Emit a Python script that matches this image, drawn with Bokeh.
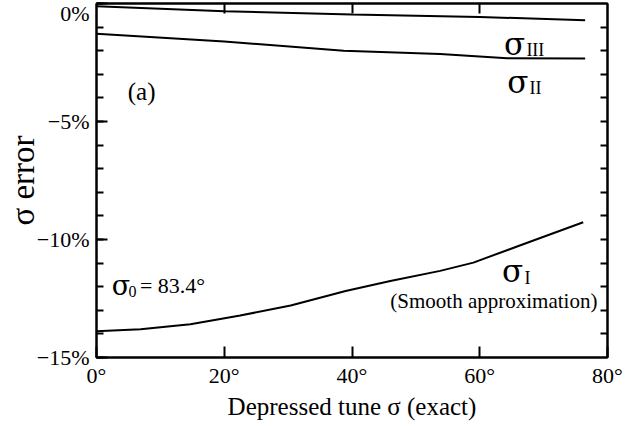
from bokeh.plotting import figure
from bokeh.models import Range1d, FixedTicker, LinearAxis, Label
from bokeh.embed import file_html
from bokeh.resources import INLINE

# ---- data ----
deg_III = [0, 20, 40, 60, 76.5]
err_III = [-0.12, -0.33, -0.47, -0.57, -0.71]

deg_II = [0, 20, 38.7, 53.8, 64.3, 76.5]
err_II = [-1.28, -1.61, -2.0, -2.14, -2.32, -2.33]

deg_I = [0, 6.9, 14.7, 22.5, 30.4, 39, 46, 53.8, 59, 66.8, 76.2]
err_I = [-13.89, -13.8, -13.59, -13.22, -12.8, -12.18, -11.76, -11.33, -10.98, -10.2, -9.27]

x_ticks = [0, 20, 40, 60, 80]
x_tick_labels = ["0°", "20°", "40°", "60°", "80°"]
y_ticks = [-15, -10, -5, 0]
y_tick_labels = ["\u221215%", "\u221210%", "\u22125%", "0%"]
y_minor = list(range(-15, 1))

FONT = "Liberation Serif"
SIG = "DejaVu Serif"

p = figure(width=625, height=429, x_range=Range1d(0, 80), y_range=Range1d(-15, 0),
           output_backend="svg", toolbar_location=None,
           min_border_left=96, min_border_right=18, min_border_top=3, min_border_bottom=72)
p.xgrid.visible = False
p.ygrid.visible = False
p.outline_line_color = "black"
p.outline_line_width = 2
p.background_fill_color = "white"
p.border_fill_color = "white"

def style_axis(ax, ticks, minor, major_in=11, minor_in=7):
    ax.ticker = FixedTicker(ticks=ticks, minor_ticks=minor)
    ax.axis_line_color = "black"
    ax.axis_line_width = 2
    ax.major_tick_line_color = "black"
    ax.major_tick_line_width = 2
    ax.major_tick_in = major_in
    ax.major_tick_out = 0
    ax.minor_tick_line_color = "black"
    ax.minor_tick_line_width = 2
    ax.minor_tick_in = minor_in
    ax.minor_tick_out = 0

def style_labels(ax, ticks, labels):
    ax.major_label_overrides = {t: l for t, l in zip(ticks, labels)}
    ax.major_label_text_font = FONT
    ax.major_label_text_font_size = "22px"
    ax.major_label_text_color = "black"
    ax.major_label_text_line_height = 1.0

# bottom axis
xa = p.xaxis[0]
style_axis(xa, x_ticks, [])
style_labels(xa, x_ticks, x_tick_labels)
xa.major_label_standoff = 5
xa.axis_label = "Depressed tune \u03c3 (exact)"
xa.axis_label_text_font = FONT
xa.axis_label_text_font_size = "25px"
xa.axis_label_text_font_style = "normal"
xa.axis_label_text_color = "black"
xa.axis_label_text_line_height = 1.0
xa.axis_label_standoff = 2

# left axis
ya = p.yaxis[0]
style_axis(ya, y_ticks, y_minor)
style_labels(ya, y_ticks, y_tick_labels)
ya.major_label_standoff = 7
ya.axis_label = "\u03c3 error"
ya.axis_label_text_font = FONT
ya.axis_label_text_font_size = "33px"
ya.axis_label_text_font_style = "normal"
ya.axis_label_text_color = "black"
ya.axis_label_text_line_height = 1.0
ya.axis_label_standoff = -7

# top and right axes: tick marks only (drawn as minor ticks, so no labels)
ta = LinearAxis()
style_axis(ta, [], x_ticks[1:-1], minor_in=10)
ta.major_label_standoff = 0
ta.axis_label_standoff = 0
p.add_layout(ta, "above")
ra = LinearAxis()
style_axis(ra, [], y_minor[1:-1], minor_in=7)
ra.major_label_standoff = 0
ra.axis_label_standoff = 0
p.add_layout(ra, "right")

# curves
for xs, ys in ((deg_III, err_III), (deg_II, err_II), (deg_I, err_I)):
    p.line(xs, ys, line_color="black", line_width=2)

def lab(x, y, t, size, baseline="alphabetic", font=FONT):
    p.add_layout(Label(x=x, y=y, text=t, text_font=font, text_font_size=size,
                       text_color="black", text_baseline=baseline))

lab(4.9, -3.72, "(a)", "25px", "middle")
lab(63.8, -1.71, "\u03c3", "31px", font=SIG)
lab(67.3, -1.95, "III", "18px")
lab(64.3, -3.33, "\u03c3", "31px", font=SIG)
lab(67.8, -3.6, "II", "18px")
lab(63.5, -11.32, "\u03c3", "31px", font=SIG)
lab(67.0, -11.62, "I", "18px")
lab(46.0, -12.6, "(Smooth approximation)", "21px", "middle")
lab(2.4, -11.97, "\u03c3", "27px", font=SIG)
lab(5.0, -12.2, "0", "16px")
lab(6.8, -11.97, "= 83.4°", "22px")

open("out.html", "w").write(file_html(p, INLINE))
